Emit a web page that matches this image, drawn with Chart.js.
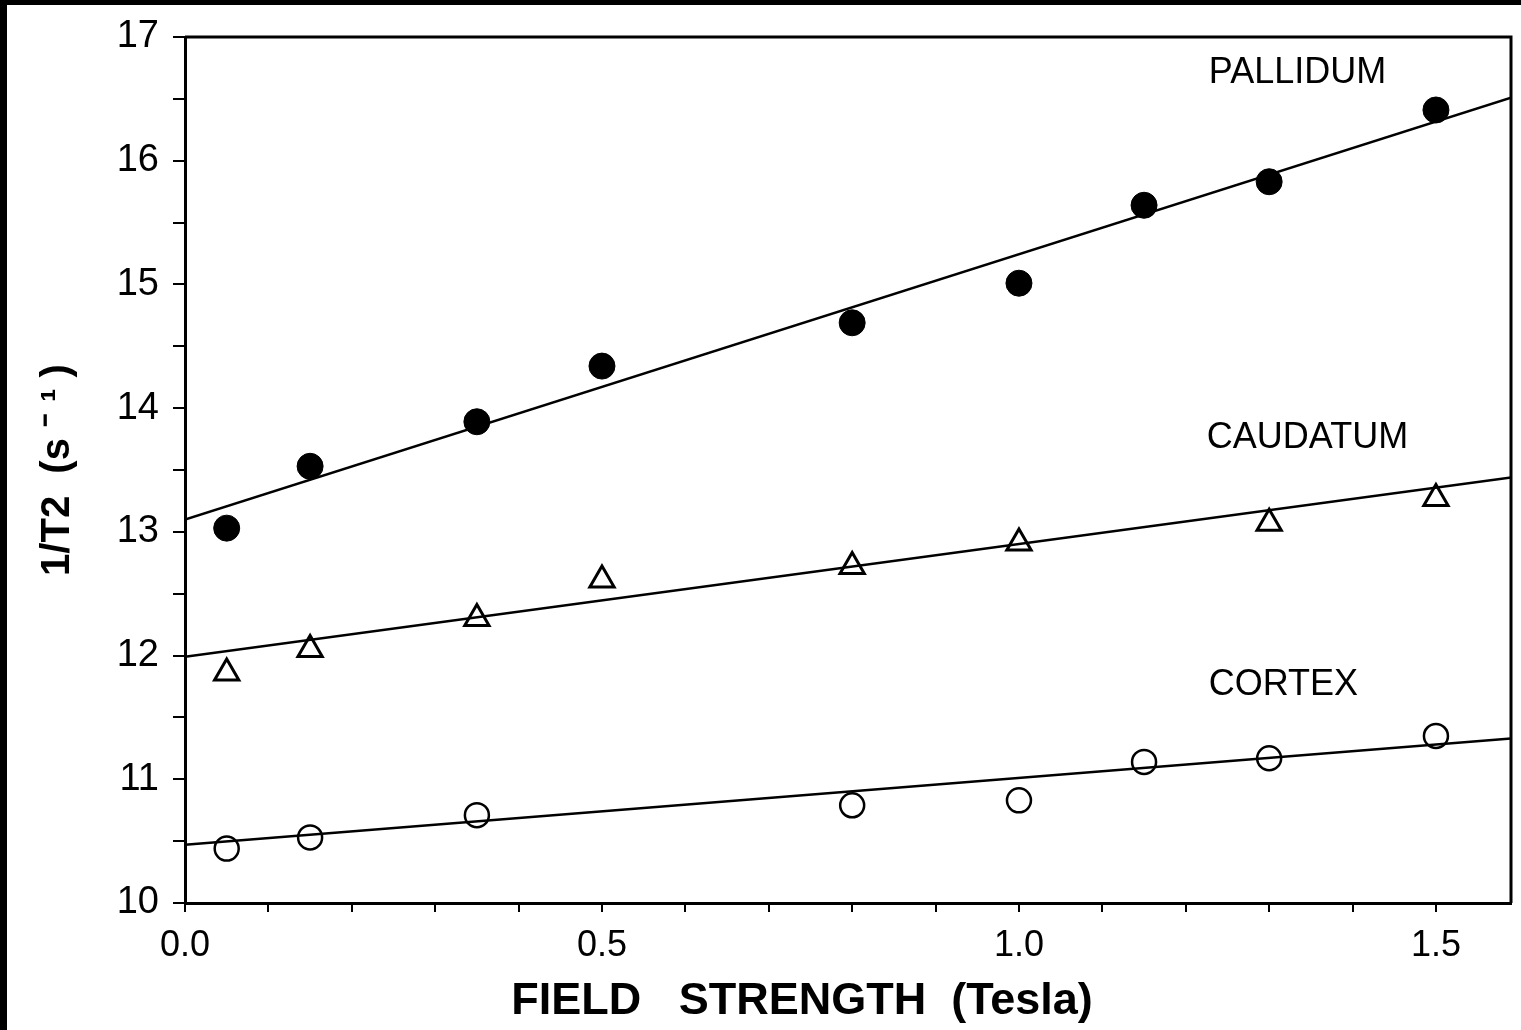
<!DOCTYPE html>
<html>
<head>
<meta charset="utf-8">
<script src="https://cdn.jsdelivr.net/npm/chart.js@4/dist/chart.umd.min.js"></script>
<style>
  html, body { margin: 0; padding: 0; background: #fff; }
  #chart { display: block; }
</style>
</head>
<body>
<canvas id="chart" width="1521" height="1030"></canvas>
<script>
// field strength (Tesla) where each tissue was measured
const pallidumX = [0.05, 0.15, 0.35, 0.5, 0.8, 1.0, 1.15, 1.3, 1.5];
const pallidumY = [13.03, 13.53, 13.89, 14.34, 14.69, 15.01, 15.64, 15.83, 16.41];

const caudatumX = [0.05, 0.15, 0.35, 0.5, 0.8, 1.0, 1.3, 1.5];
const caudatumY = [11.86, 12.05, 12.30, 12.61, 12.72, 12.91, 13.07, 13.27];

const cortexX = [0.05, 0.15, 0.35, 0.8, 1.0, 1.15, 1.3, 1.5];
const cortexY = [10.44, 10.53, 10.71, 10.79, 10.83, 11.14, 11.17, 11.35];

// fitted lines, read at both ends of the x axis
const fitX = [0, 1.59];
const pallidumFit = [13.10, 16.51];
const caudatumFit = [11.99, 13.44];
const cortexFit = [10.47, 11.33];

// tissue names and where they sit (data coords)
const tissueNames = ["PALLIDUM", "CAUDATUM", "CORTEX"];
const tissueLabelX = [1.334, 1.346, 1.317];
const tissueLabelY = [16.71, 13.76, 11.76];

const xTitle = "FIELD   STRENGTH  (Tesla)";
const yTitle = "1/T2  (s \u207B \u00B9 )";

const FONT = "'Liberation Sans', Arial, Helvetica, sans-serif";

function pts(xs, ys){
  return xs.map((x, i) => ({x: x, y: ys[i]}));
}

const paperPlugin = {
  id: "paper",
  beforeDraw(chart){
    const ctx = chart.ctx;
    ctx.save();
    ctx.fillStyle = "#fff";
    ctx.fillRect(0, 0, chart.width, chart.height);
    // scan border
    ctx.fillStyle = "#000";
    ctx.fillRect(0, 0, chart.width, 5);
    ctx.fillRect(0, 0, 7, chart.height);
    ctx.restore();
  },
  afterDraw(chart){
    const ctx = chart.ctx;
    const a = chart.chartArea;
    const xs = chart.scales.x, ys = chart.scales.y;
    ctx.save();
    // frame top + right
    ctx.strokeStyle = "#000";
    ctx.lineWidth = 3;
    ctx.beginPath();
    ctx.moveTo(a.left, a.top);
    ctx.lineTo(a.right, a.top);
    ctx.lineTo(a.right, a.bottom);
    ctx.stroke();

    ctx.fillStyle = "#000";
    ctx.textAlign = "center";
    ctx.textBaseline = "middle";
    ctx.font = "36px " + FONT;
    tissueNames.forEach((t, i) => {
      ctx.fillText(t, xs.getPixelForValue(tissueLabelX[i]), ys.getPixelForValue(tissueLabelY[i]));
    });

    ctx.font = "bold 45px " + FONT;
    ctx.fillText(xTitle, 802, 1002);
    ctx.restore();
  }
};

const ctx = document.getElementById("chart");

new Chart(ctx, {
  type: "scatter",
  data: {
    datasets: [
      {
        label: "Pallidum fit",
        type: "line",
        data: pts(fitX, pallidumFit),
        borderColor: "#000",
        borderWidth: 2.5,
        pointRadius: 0
      },
      {
        label: "Caudatum fit",
        type: "line",
        data: pts(fitX, caudatumFit),
        borderColor: "#000",
        borderWidth: 2.5,
        pointRadius: 0
      },
      {
        label: "Cortex fit",
        type: "line",
        data: pts(fitX, cortexFit),
        borderColor: "#000",
        borderWidth: 2.5,
        pointRadius: 0
      },
      {
        label: "PALLIDUM",
        data: pts(pallidumX, pallidumY),
        pointStyle: "circle",
        pointRadius: 13,
        backgroundColor: "#000",
        borderColor: "#000",
        borderWidth: 1
      },
      {
        label: "CAUDATUM",
        data: pts(caudatumX, caudatumY),
        pointStyle: "triangle",
        pointRadius: 14,
        backgroundColor: "#fff",
        borderColor: "#000",
        borderWidth: 3
      },
      {
        label: "CORTEX",
        data: pts(cortexX, cortexY),
        pointStyle: "circle",
        pointRadius: 12,
        backgroundColor: "#fff",
        borderColor: "#000",
        borderWidth: 2.5
      }
    ]
  },
  options: {
    responsive: false,
    animation: false,
    layout: { autoPadding: false, padding: { top: 37, right: 10, left: 0, bottom: 0 } },
    plugins: {
      legend: { display: false },
      tooltip: { enabled: false }
    },
    scales: {
      x: {
        type: "linear",
        min: 0,
        max: 1.59,
        afterBuildTicks: s => {
          s.ticks = s.ticks.filter(t => Math.abs(t.value * 10 - Math.round(t.value * 10)) < 1e-6);
        },
        afterFit: s => { s.height = 127; },
        ticks: {
          stepSize: 0.1,
          includeBounds: false,
          autoSkip: false,
          maxRotation: 0,
          color: "#000",
          padding: 12,
          font: { family: FONT, size: 36 },
          callback: v => (Math.abs(v * 2 - Math.round(v * 2)) < 1e-6 ? v.toFixed(1) : "")
        },
        grid: {
          drawOnChartArea: false,
          drawTicks: true,
          tickLength: 9,
          color: "#000",
          lineWidth: 2
        },
        border: { display: true, color: "#000", width: 3 }
      },
      y: {
        type: "linear",
        min: 10,
        max: 17,
        afterFit: s => { s.width = 185; },
        ticks: {
          stepSize: 0.5,
          autoSkip: false,
          color: "#000",
          padding: 14,
          font: { family: FONT, size: 38 },
          callback: v => (Number.isInteger(v) ? String(v) : "")
        },
        grid: {
          drawOnChartArea: false,
          drawTicks: true,
          tickLength: 12,
          color: "#000",
          lineWidth: 2
        },
        border: { display: true, color: "#000", width: 3 },
        title: {
          display: true,
          text: yTitle,
          color: "#000",
          font: { family: FONT, size: 40, weight: "bold" },
          padding: { top: 34, bottom: 0 }
        }
      }
    }
  },
  plugins: [paperPlugin]
});
</script>
</body>
</html>
